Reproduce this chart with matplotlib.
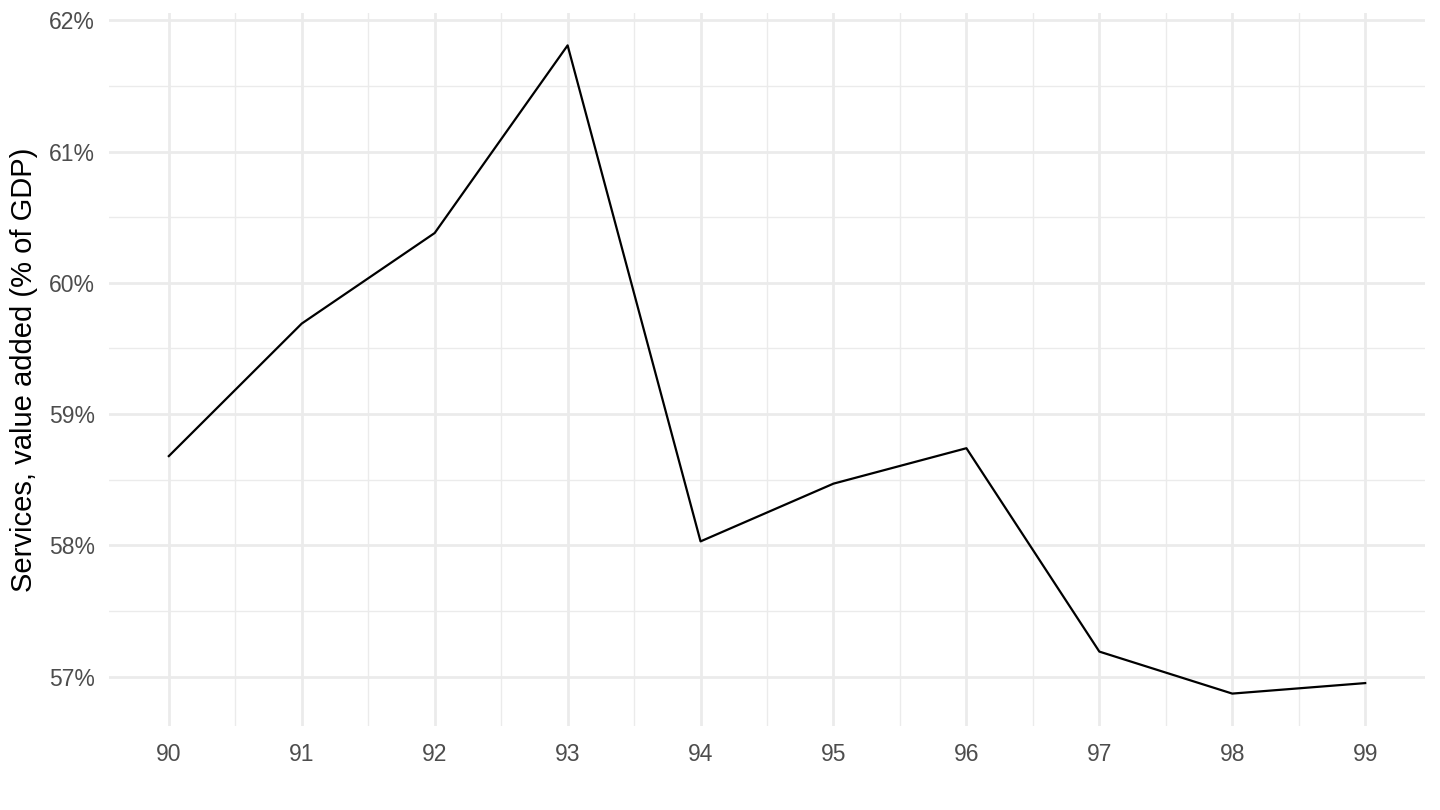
import matplotlib
matplotlib.use("Agg")
import matplotlib.pyplot as plt
from matplotlib.ticker import MultipleLocator, FuncFormatter

# annees (2 chiffres) et part des services dans le PIB (%)
years = [90, 91, 92, 93, 94, 95, 96, 97, 98, 99]
services = [58.68, 59.69, 60.38, 61.81, 58.03, 58.47, 58.74, 57.19, 56.87, 56.95]
ylabel = "Services, value added (% of GDP)"

plt.rcParams["font.family"] = ["Liberation Sans", "DejaVu Sans"]

fig = plt.figure(figsize=(14.4, 8.1), dpi=100)
ax = fig.add_axes([0.0757, 0.1037, 0.9139, 0.8803])

ax.plot(years, services, color="black", linewidth=1.6, zorder=3)

# limites avec expansion de 5% comme ggplot
xr = max(years) - min(years)
ax.set_xlim(min(years) - 0.05 * xr, max(years) + 0.05 * xr)
yr = max(services) - min(services)
ax.set_ylim(min(services) - 0.05 * yr, max(services) + 0.05 * yr)

ax.xaxis.set_major_locator(MultipleLocator(1))
ax.xaxis.set_minor_locator(MultipleLocator(0.5))
ax.yaxis.set_major_locator(MultipleLocator(1))
ax.yaxis.set_minor_locator(MultipleLocator(0.5))
ax.xaxis.set_major_formatter(FuncFormatter(lambda v, p: "%d" % v))
ax.yaxis.set_major_formatter(FuncFormatter(lambda v, p: "%d%%" % v))

ax.grid(which="major", color="#EBEBEB", linewidth=2.0)
ax.grid(which="minor", color="#EBEBEB", linewidth=1.0)
ax.set_axisbelow(True)
for s in ax.spines.values():
    s.set_visible(False)
ax.tick_params(which="both", length=0)
ax.tick_params(axis="x", labelsize=16.5, labelcolor="#4D4D4D", pad=12)
ax.tick_params(axis="y", labelsize=16.5, labelcolor="#4D4D4D", pad=10)

ax.set_ylabel(ylabel, fontsize=21, color="black", labelpad=8)

fig.savefig("out.png", dpi=100)
